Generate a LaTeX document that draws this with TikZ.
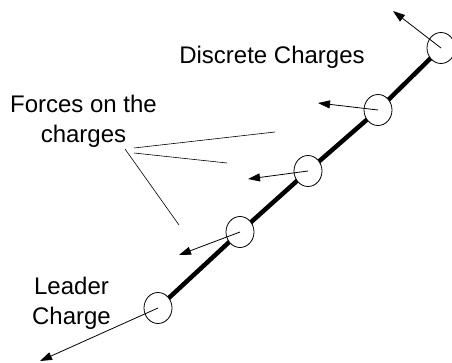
\documentclass[tikz,border=0pt]{standalone}
\usepackage{fontspec}
\setmainfont{Liberation Sans}
\usetikzlibrary{shapes.geometric,arrows.meta}
\begin{document}
\begin{tikzpicture}[x=1pt,y=-1pt,
  charge/.style={ellipse,draw,fill=white,line width=0.8pt,minimum width=28pt,minimum height=31pt,inner sep=0pt},
  force/.style={line width=0.8pt,-{Triangle[length=12pt,width=8pt]}},
  pointer/.style={line width=0.6pt},
  strand/.style={line width=4.5pt},
  lbl/.style={font=\fontsize{24}{30}\selectfont,inner sep=0pt,align=center}]
\useasboundingbox (0,0) rectangle (452,362);
% charge positions
\coordinate (p1) at (441,48);
\coordinate (p2) at (378,110);
\coordinate (p3) at (308,171);
\coordinate (p4) at (240,232);
\coordinate (p5) at (158,308);
% thick strand
\draw[strand] (p5) -- (p4) -- (p3) -- (p2) -- (p1);
% charges
\node[charge] (c1) at (p1) {};
\node[charge] (c2) at (p2) {};
\node[charge] (c3) at (p3) {};
\node[charge] (c4) at (p4) {};
\node[charge] (c5) at (p5) {};
% force arrow tips
\coordinate (f1) at (393,11);
\coordinate (f2) at (318,103);
\coordinate (f3) at (248,179);
\coordinate (f4) at (179,255);
\coordinate (f5) at (40,361);
\draw[force] (c1.center) -- (f1);
\draw[force] (c2.center) -- (f2);
\draw[force] (c3.center) -- (f3);
\draw[force] (c4.center) -- (f4);
\draw[force] (c5.center) -- (f5);
% labels
\node[lbl,anchor=base] (disc) at (272,63) {Discrete Charges};
\node[lbl,anchor=north] (forces) at (83.5,95) {Forces on the\\charges};
\node[lbl,anchor=north] (leader) at (71.5,277) {Leader\\Charge};
% pointer lines
\coordinate (q0) at (134,148);
\coordinate (q0b) at (134,153);
\coordinate (q0c) at (125,149);
\coordinate (q1) at (275,132);
\coordinate (q2) at (227,163);
\coordinate (q3) at (179,225);
\draw[pointer] (q0) -- (q1);
\draw[pointer] (q0b) -- (q2);
\draw[pointer] (q0c) -- (q3);
\end{tikzpicture}
\end{document}
